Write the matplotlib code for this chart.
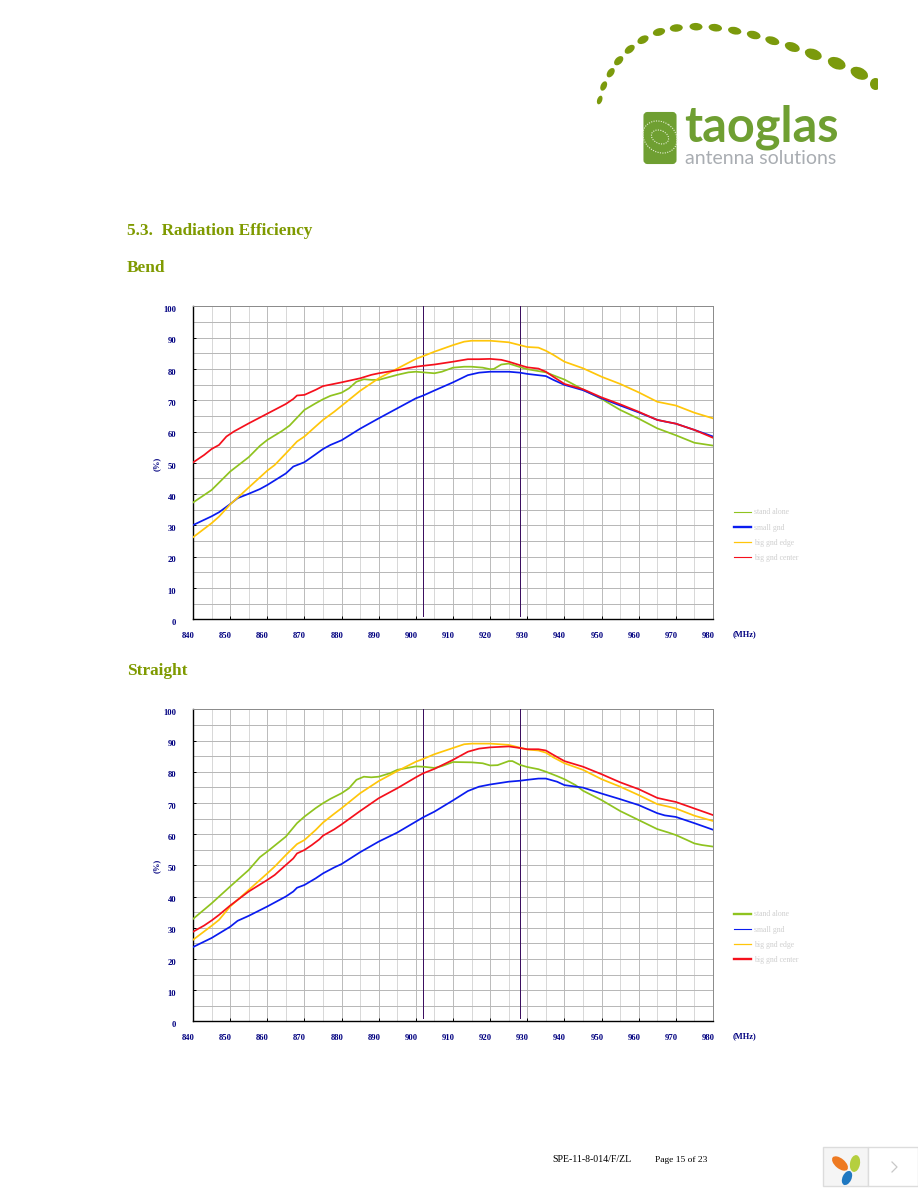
import matplotlib
matplotlib.use('Agg')
import matplotlib.pyplot as plt
from matplotlib.lines import Line2D
from matplotlib.patches import Ellipse, FancyBboxPatch, Rectangle
from matplotlib.transforms import ScaledTranslation

plt.rcParams['font.family'] = ['Liberation Serif', 'DejaVu Serif']

GREEN = '#8fc31f'
BLUE = '#0a1cf0'
YELLOW = '#ffc60a'
RED = '#f5101c'
NAVY = '#000080'
OLIVE = '#7f9a00'

freq_ticks = [840, 850, 860, 870, 880, 890, 900, 910, 920, 930, 940, 950, 960, 970, 980]
eff_ticks = [0, 10, 20, 30, 40, 50, 60, 70, 80, 90, 100]
markers = [902, 928]
names = ['stand alone', 'small gnd', 'big gnd edge', 'big gnd center']

# Bend
bend_green_x = [840, 845, 850, 855, 858, 860, 864, 866, 868, 870, 873, 875, 877, 880, 882, 884, 886, 888, 890, 895, 898, 900, 902, 905, 907, 910, 913, 915, 918, 920, 921, 923, 925, 928, 930, 935, 938, 940, 943, 945, 950, 955, 960, 965, 970, 975, 980]
bend_green_y = [37.3, 41.3, 47.2, 51.8, 55.4, 57.3, 60.2, 61.9, 64.4, 66.9, 69, 70.3, 71.4, 72.4, 73.8, 75.9, 76.7, 76.5, 76.5, 78.1, 78.9, 79.1, 78.9, 78.6, 79.1, 80.4, 80.7, 80.7, 80.4, 79.9, 80, 81.4, 81.7, 80.6, 79.9, 78.9, 77.5, 76.6, 74.7, 73.4, 70.4, 66.9, 64.1, 61, 58.8, 56.4, 55.5]
bend_blue_x = [840, 845, 847, 850, 852, 855, 858, 860, 865, 867, 870, 873, 875, 877, 880, 885, 890, 895, 900, 902, 905, 910, 914, 917, 920, 925, 928, 930, 935, 937, 940, 945, 950, 955, 960, 965, 967, 970, 975, 980]
bend_blue_y = [30.1, 32.9, 34.2, 36.8, 38.7, 40.1, 41.6, 42.9, 46.6, 48.8, 50.2, 52.7, 54.4, 55.7, 57.2, 60.9, 64.2, 67.4, 70.6, 71.5, 73.1, 75.7, 78, 78.8, 79.1, 79.1, 78.8, 78.4, 77.7, 76.5, 74.9, 73.2, 70.6, 68.3, 66.1, 63.7, 63.2, 62.5, 60.5, 58.4]
bend_yellow_x = [840, 845, 847, 850, 855, 860, 862, 865, 868, 870, 873, 875, 878, 880, 885, 890, 895, 900, 902, 905, 910, 913, 915, 920, 925, 928, 930, 933, 935, 937, 940, 945, 950, 955, 960, 965, 970, 975, 980]
bend_yellow_y = [26.2, 30.7, 32.8, 36.7, 42.1, 47.5, 49.3, 53, 56.8, 58.4, 61.6, 63.7, 66.3, 68.2, 73, 77, 80.1, 83.2, 84.1, 85.5, 87.6, 88.7, 89, 89, 88.5, 87.6, 87, 86.8, 85.8, 84.5, 82.3, 80.2, 77.5, 75.2, 72.5, 69.5, 68.3, 66, 64.2]
bend_red_x = [840, 843, 845, 847, 849, 851, 853, 855, 860, 865, 867, 868, 870, 873, 875, 880, 885, 888, 890, 895, 900, 902, 905, 910, 914, 917, 920, 923, 925, 928, 930, 933, 935, 937, 940, 945, 950, 955, 960, 965, 970, 975, 980]
bend_red_y = [50.1, 52.5, 54.4, 55.7, 58.4, 60, 61.3, 62.6, 65.7, 68.8, 70.4, 71.5, 71.7, 73.3, 74.5, 75.7, 77, 78.1, 78.6, 79.6, 80.7, 81, 81.4, 82.3, 83.1, 83.1, 83.2, 82.9, 82.3, 81.2, 80.5, 80.1, 79.1, 77.5, 75.2, 73.5, 70.9, 68.7, 66.3, 63.7, 62.5, 60.5, 58]

# Straight
straight_green_x = [840, 845, 850, 855, 858, 860, 865, 868, 870, 873, 875, 877, 880, 882, 884, 886, 888, 890, 893, 895, 900, 902, 905, 907, 910, 915, 918, 920, 922, 925, 926, 928, 930, 933, 935, 938, 940, 943, 945, 950, 955, 960, 965, 968, 970, 973, 975, 977, 980]
straight_green_y = [32.8, 37.8, 43.2, 48.5, 52.6, 54.4, 59.2, 63.5, 65.6, 68.3, 69.9, 71.3, 73.1, 74.7, 77.4, 78.4, 78.2, 78.4, 79.5, 80.6, 81.7, 81.6, 81.2, 81.8, 83.1, 83, 82.7, 82, 82.1, 83.4, 83.4, 82.2, 81.5, 80.8, 80, 78.6, 77.6, 75.7, 73.9, 70.9, 67.4, 64.5, 61.6, 60.5, 59.7, 58.1, 57, 56.5, 56]
straight_blue_x = [840, 845, 850, 852, 855, 860, 865, 867, 868, 870, 873, 875, 878, 880, 885, 890, 895, 900, 902, 905, 910, 914, 917, 920, 925, 928, 930, 933, 935, 938, 940, 945, 950, 955, 960, 965, 967, 970, 975, 980]
straight_blue_y = [23.8, 26.7, 30.3, 32.2, 33.8, 36.8, 40, 41.6, 42.8, 43.7, 45.8, 47.4, 49.3, 50.4, 54.2, 57.6, 60.5, 64, 65.4, 67.2, 70.8, 73.8, 75.2, 75.9, 76.8, 77.1, 77.4, 77.8, 77.8, 76.8, 75.7, 74.9, 73, 71.2, 69.3, 66.7, 66, 65.5, 63.5, 61.4]
straight_yellow_x = [840, 845, 847, 850, 855, 860, 862, 865, 868, 870, 873, 875, 878, 880, 885, 890, 895, 900, 902, 905, 910, 913, 915, 920, 925, 928, 930, 933, 935, 937, 940, 945, 950, 955, 960, 965, 968, 970, 975, 980]
straight_yellow_y = [26.1, 30.6, 32.5, 36.8, 42.1, 47.4, 49.6, 53.3, 56.8, 58.1, 61.3, 63.7, 66.5, 68.3, 73.1, 77, 80.2, 83.2, 84.1, 85.6, 87.6, 88.8, 89, 89, 88.6, 87.7, 87.1, 86.8, 86.1, 84.6, 82.7, 80.6, 77.6, 75.2, 72.5, 69.6, 68.8, 68.2, 65.9, 64.2]
straight_red_x = [840, 843, 845, 847, 850, 855, 860, 862, 865, 867, 868, 870, 872, 874, 875, 878, 880, 885, 890, 895, 900, 902, 905, 910, 914, 917, 920, 925, 928, 930, 933, 935, 937, 940, 945, 950, 955, 960, 965, 968, 970, 975, 980]
straight_red_y = [28.7, 30.7, 32.3, 34.1, 37.1, 41.6, 45.3, 46.9, 50.1, 52.2, 53.8, 54.9, 56.5, 58.3, 59.5, 61.5, 63.1, 67.4, 71.5, 74.7, 78.2, 79.5, 80.9, 83.8, 86.4, 87.4, 87.8, 88.1, 87.6, 87.2, 87.2, 86.8, 85.4, 83.4, 81.6, 79.2, 76.6, 74.4, 71.6, 70.8, 70.3, 68.2, 66.1]

W, H = 918, 1188
fig = plt.figure(figsize=(W / 100, H / 100), dpi=100, facecolor='white')

# whole page axes in pixels, for the letterhead and footer
page = fig.add_axes([0, 0, 1, 1], zorder=0)
page.set_xlim(0, W)
page.set_ylim(H, 0)
page.axis('off')


def draw_chart(left, top, right, bottom, series, widths, legend_top):
    ax = fig.add_axes([left / W, 1 - bottom / H, (right - left) / W, (bottom - top) / H], zorder=1)
    ax.set_xlim(840, 980)
    ax.set_ylim(0, 100)
    ax.set_xticks(freq_ticks)
    ax.set_xticks(range(845, 980, 10), minor=True)
    ax.set_yticks(eff_ticks)
    ax.set_yticks(range(5, 100, 10), minor=True)
    ax.grid(which='major', axis='x', color='#bcbcbc', lw=0.72)
    ax.grid(which='minor', axis='x', color='#d8d8d8', lw=0.72)
    ax.grid(which='both', axis='y', color='#b8b8b8', lw=0.72)
    ax.set_axisbelow(True)
    ax.tick_params(which='minor', length=0)
    ax.tick_params(which='major', direction='in', length=2.2, width=0.7, color='black',
                   labelsize=6.2, labelcolor=NAVY)
    ax.tick_params(axis='x', pad=9)
    ax.tick_params(axis='y', pad=12)
    for side in ['top', 'right']:
        ax.spines[side].set_color('#8c8c8c')
        ax.spines[side].set_linewidth(0.72)
    for side in ['left', 'bottom']:
        ax.spines[side].set_color('black')
        ax.spines[side].set_linewidth(1.0)

    dx = ScaledTranslation(-3.4 / 72, 0, fig.dpi_scale_trans)
    for lab in ax.get_xticklabels():
        lab.set_transform(lab.get_transform() + dx)
        lab.set_fontweight('bold')
    dy = ScaledTranslation(0, -2 / 72, fig.dpi_scale_trans)
    for lab in ax.get_yticklabels():
        lab.set_transform(lab.get_transform() + dy)
        lab.set_fontweight('bold')

    for m in markers:
        ax.plot([m, m], [1, 100], color='#3c0f60', lw=0.72, zorder=3)
    colors = [GREEN, BLUE, YELLOW, RED]
    for (x, y), c in zip(series, colors):
        ax.plot(x, y, color=c, lw=1.25, zorder=4, solid_joinstyle='round')

    handles = [Line2D([], [], color=c, lw=w) for c, w in zip(colors, widths)]
    ax.legend(handles, names, frameon=False, loc='upper left',
              bbox_to_anchor=((734 - left) / (right - left), 1 - (legend_top - top) / (bottom - top)),
              fontsize=5.6, labelcolor='#cfcfcf', handlelength=2.2, handletextpad=0.4,
              labelspacing=0.93, borderpad=0, borderaxespad=0)
    page.text(157, (top + bottom) / 2 + 1, '(%)', color=NAVY, fontsize=6.2, fontweight='bold',
              rotation=90, ha='center', va='center')
    page.text(744.5, bottom + 14.5, '(MHz)', color=NAVY, fontsize=6, fontweight='bold',
              ha='center', va='center')
    return ax


draw_chart(193, 306.3, 713, 619.3,
           [(bend_green_x, bend_green_y), (bend_blue_x, bend_blue_y),
            (bend_yellow_x, bend_yellow_y), (bend_red_x, bend_red_y)],
           [0.8, 1.7, 0.9, 0.8], 508.5)
draw_chart(193, 709.3, 713, 1021.3,
           [(straight_green_x, straight_green_y), (straight_blue_x, straight_blue_y),
            (straight_yellow_x, straight_yellow_y), (straight_red_x, straight_red_y)],
           [1.7, 0.8, 0.9, 1.7], 910.5)

# headings
page.text(127, 231, '5.3.  Radiation Efficiency', color=OLIVE, fontsize=12.4, fontweight='bold', va='center')
page.text(127, 268, 'Bend', color=OLIVE, fontsize=12.4, fontweight='bold', va='center')
page.text(127, 671, 'Straight', color=OLIVE, fontsize=12.4, fontweight='bold', va='center')

# footer
page.text(552, 1160, 'SPE-11-8-014/F/ZL', color='black', fontsize=7.1, va='center')
page.text(655, 1160, 'Page 15 of 23', color='black', fontsize=6.8, va='center')

# logo dots, read from the zoomed letterhead
dots = [(599.7, 100, 5, 9, 70), (603.7, 86, 6, 10, 65), (610.7, 72.7, 6.5, 10.5, 55), (618.7, 60.7, 7, 11, 45),
        (629.7, 49.3, 7, 11.5, 38), (643, 39.7, 7.5, 12, 28), (659, 32, 7.5, 12.5, 15), (676.3, 28, 7.5, 13, 5),
        (696, 26.7, 7.5, 13, -3), (715.3, 27.7, 7.5, 13.5, -8), (734.7, 30.7, 7.5, 13.5, -12), (753.7, 35, 8, 14, -15),
        (772.3, 40.7, 8, 14.5, -18), (792.3, 47, 9, 15.5, -20), (813.3, 54.3, 10.5, 17.5, -20), (836.7, 63.3, 11.5, 18.5, -22),
        (859.3, 73.3, 11.5, 18.5, -25)]
for cx, cy, h, w, ang in dots:
    page.add_patch(Ellipse((cx, cy), w, h, angle=-ang, color='#7b9a0c', lw=0))
page.add_patch(Ellipse((875.5, 84), 11, 12, color='#7b9a0c', lw=0))
page.add_patch(Rectangle((878, 70), 14, 30, color='white', lw=0, zorder=2))

page.add_patch(FancyBboxPatch((644.5, 113), 31, 50, boxstyle='round,pad=0,rounding_size=3',
                              fc='#6f9f32', ec='#6f9f32', lw=1.5))
for (cx, cy, w, h, ang) in [(660, 137, 36, 30, 35), (660, 137, 18, 13, 25)]:
    page.add_patch(Ellipse((cx, cy), w, h, angle=ang, fill=False, ec='#e6efd6', lw=0.8, ls=(0, (1, 1.2))))
page.text(684, 142, 'taoglas', family=['Lato', 'DejaVu Sans'], fontweight='bold', color='#6f9f32',
          fontsize=35, va='baseline', ha='left')
page.text(685, 164, 'antenna solutions', family=['Lato', 'DejaVu Sans'], color='#a9adb2',
          fontsize=14, va='baseline', ha='left')

# page widget bottom right
page.add_patch(Rectangle((822.5, 1146.5), 45.5, 39, fc='#f5f5f5', ec='#dcdcdc', lw=1))
page.add_patch(Rectangle((868, 1146.5), 49.5, 39, fc='white', ec='#dcdcdc', lw=1))
page.add_patch(Ellipse((840, 1163.5), 19, 10, angle=40, color='#ee7a22', lw=0))
page.add_patch(Ellipse((855, 1163.5), 10, 17, angle=10, color='#b5cf3e', lw=0))
page.add_patch(Ellipse((847, 1178), 9, 15, angle=25, color='#1f78c1', lw=0))
page.plot([892, 897, 892], [1162, 1167, 1172], color='#c8c8c8', lw=0.9)

fig.savefig('out.png', dpi=100)
